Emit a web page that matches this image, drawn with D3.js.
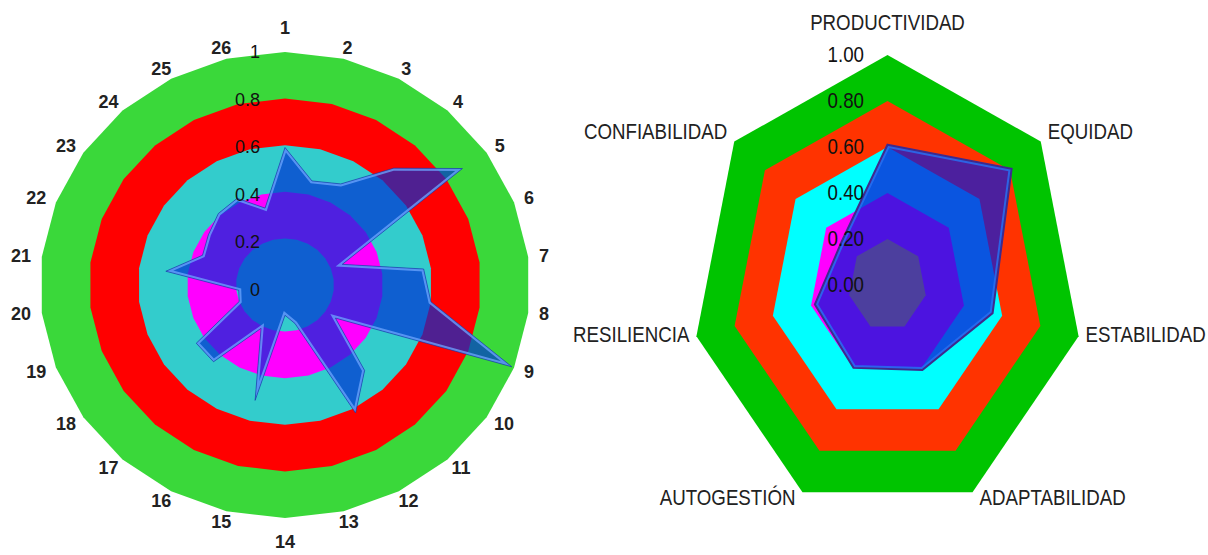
<!DOCTYPE html>
<html>
<head>
<meta charset="utf-8">
<script src="https://cdn.jsdelivr.net/npm/d3@7"></script>
<style>
  html, body { margin: 0; padding: 0; background: #ffffff; }
  svg { display: block; }
</style>
</head>
<body>
<svg id="chart" width="1208" height="555"></svg>
<script>
// ---- Left radar: 26 indicators ----
const leftCategories = ["1","2","3","4","5","6","7","8","9","10","11","12","13",
  "14","15","16","17","18","19","20","21","22","23","24","25","26"];
const leftValues = [0.59, 0.46, 0.49, 0.67, 0.88, 0.25, 0.57, 0.60, 0.99, 0.25, 0.49, 0.62, 0.17,
  0.13, 0.51, 0.21, 0.44, 0.44, 0.20, 0.19, 0.49, 0.36, 0.38, 0.41, 0.42, 0.34];
const leftBandLevels = [1, 0.8, 0.6, 0.4, 0.2];
const leftBandColors = ["#3ad83a", "#ff0000", "#33cccc", "#ff00ff", "#33cccc"];
const leftTickValues = [0, 0.2, 0.4, 0.6, 0.8, 1];
const leftTickLabels = ["0", "0.2", "0.4", "0.6", "0.8", "1"];

// ---- Right radar: 7 attributes ----
const rightCategories = ["PRODUCTIVIDAD", "EQUIDAD", "ESTABILIDAD", "ADAPTABILIDAD",
  "AUTOGESTIÓN", "RESILIENCIA", "CONFIABILIDAD"];
const rightValues = [0.61, 0.81, 0.55, 0.41, 0.40, 0.38, 0.30];
const rightBandLevels = [1, 0.8, 0.6, 0.4, 0.2];
const rightBandColors = ["#00c400", "#ff3300", "#00ffff", "#ff00ff", "#ffaa00"];
const rightTickValues = [0, 0.2, 0.4, 0.6, 0.8, 1];
const rightTickLabels = ["0.00", "0.20", "0.40", "0.60", "0.80", "1.00"];

const svg = d3.select("#chart");
const defs = svg.append("defs");

function radar(cfg) {
  const n = cfg.categories.length;
  const angle = d3.scaleLinear().domain([0, n]).range([0, 2 * Math.PI]);
  const rx = d3.scaleLinear().domain([0, 1]).range([0, cfg.rx]);
  const ry = d3.scaleLinear().domain([0, 1]).range([0, cfg.ry]);
  const px = (i, v) => cfg.cx + rx(v) * Math.sin(angle(i));
  const py = (i, v) => cfg.cy - ry(v) * Math.cos(angle(i));
  const g = svg.append("g");

  const ring = v => d3.line()
    .x((d, i) => px(i, v))
    .y((d, i) => py(i, v))
    .curve(d3.curveLinearClosed)(cfg.categories);

  // concentric bands, outermost first
  g.selectAll("path.band")
    .data(cfg.bandLevels)
    .join("path")
    .attr("class", "band")
    .attr("d", d => ring(d))
    .attr("fill", (d, i) => cfg.bandColors[i]);

  // series polygon
  const seriesPath = d3.line()
    .x((d, i) => px(i, d))
    .y((d, i) => py(i, d))
    .curve(d3.curveLinearClosed)(cfg.values);

  const clipId = cfg.id + "-clip";
  defs.append("clipPath").attr("id", clipId).append("path").attr("d", seriesPath);

  g.append("path")
    .attr("d", seriesPath)
    .attr("fill", cfg.seriesFill)
    .attr("stroke", "none");
  // bevel: light rim inside the shape
  g.append("path")
    .attr("d", seriesPath)
    .attr("fill", "none")
    .attr("stroke", cfg.rimColor)
    .attr("stroke-width", cfg.rimWidth)
    .attr("stroke-linejoin", "miter")
    .attr("clip-path", `url(#${clipId})`);
  g.append("path")
    .attr("d", seriesPath)
    .attr("fill", "none")
    .attr("stroke", cfg.edgeColor)
    .attr("stroke-width", cfg.edgeWidth)
    .attr("stroke-linejoin", "miter");

  return { g, angle, rx, ry, px, py };
}

// ---------- left chart ----------
const L = radar({
  id: "left", cx: 285, cy: 285, rx: 245, ry: 233,
  categories: leftCategories, values: leftValues,
  bandLevels: leftBandLevels, bandColors: leftBandColors,
  seriesFill: "rgba(0,47,210,0.69)",
  rimColor: "rgba(110,165,255,0.75)", rimWidth: 5,
  edgeColor: "rgba(20,50,160,0.6)", edgeWidth: 1
});

// radial tick labels, left of the vertical axis
L.g.selectAll("text.tick")
  .data(leftTickValues)
  .join("text")
  .attr("class", "tick")
  .attr("x", 260)
  .attr("y", d => 285 + 5 - L.ry(d) * 1.02)
  .attr("text-anchor", "end")
  .attr("dominant-baseline", "central")
  .attr("font-family", "Liberation Sans, Arial, sans-serif")
  .attr("font-size", 18)
  .attr("fill", "#111")
  .text((d, i) => leftTickLabels[i]);

// category labels around the rim
L.g.selectAll("text.cat")
  .data(leftCategories)
  .join("text")
  .attr("class", "cat")
  .attr("text-anchor", "middle")
  .attr("dominant-baseline", "central")
  .attr("font-family", "Liberation Sans, Arial, sans-serif")
  .attr("font-size", 18)
  .attr("font-weight", "bold")
  .attr("fill", "#222")
  .text(d => d)
  .each(function (d, i) {
    const a = L.angle(i);
    const w = this.getComputedTextLength();
    const extra = Math.abs(Math.cos(a)) > 0.999 ? 13 : 0;
    const x = 285 + (245 + 11 + w / 2) * Math.sin(a);
    const y = 285 - (233 + 11 + extra) * Math.cos(a);
    d3.select(this).attr("x", x).attr("y", y);
  });

// ---------- right chart ----------
const R = radar({
  id: "right", cx: 887.5, cy: 285, rx: 196, ry: 230,
  categories: rightCategories, values: rightValues,
  bandLevels: rightBandLevels, bandColors: rightBandColors,
  seriesFill: "rgba(13,26,213,0.74)",
  rimColor: "rgba(40,110,240,0.85)", rimWidth: 6,
  edgeColor: "#3d2a8e", edgeWidth: 2
});

const narrow = 0.85;

R.g.selectAll("text.tick")
  .data(rightTickValues)
  .join("text")
  .attr("class", "tick")
  .attr("transform", d => `translate(864,${285 - R.ry(d) - 1}) scale(${narrow},1)`)
  .attr("text-anchor", "end")
  .attr("dominant-baseline", "central")
  .attr("font-family", "Liberation Sans, Arial, sans-serif")
  .attr("font-size", 22)
  .attr("fill", "#111")
  .text((d, i) => rightTickLabels[i]);

R.g.selectAll("text.cat")
  .data(rightCategories)
  .join("text")
  .attr("class", "cat")
  .attr("dominant-baseline", "central")
  .attr("font-family", "Liberation Sans, Arial, sans-serif")
  .attr("font-size", 22)
  .attr("fill", "#222")
  .attr("text-anchor", (d, i) => {
    const s = Math.sin(R.angle(i));
    return Math.abs(s) < 0.01 ? "middle" : (s > 0 ? "start" : "end");
  })
  .attr("transform", (d, i) => {
    const a = R.angle(i);
    const s = Math.sin(a), c = Math.cos(a);
    const vx = R.px(i, 1), vy = R.py(i, 1);
    let x = vx + (Math.abs(s) < 0.01 ? 0 : (s > 0 ? 7 : -7));
    let y = vy - 10 * c - 4;
    if (Math.abs(s) < 0.01) y = vy - 33;
    return `translate(${x},${y}) scale(${narrow},1)`;
  })
  .text(d => d);
</script>
</body>
</html>
